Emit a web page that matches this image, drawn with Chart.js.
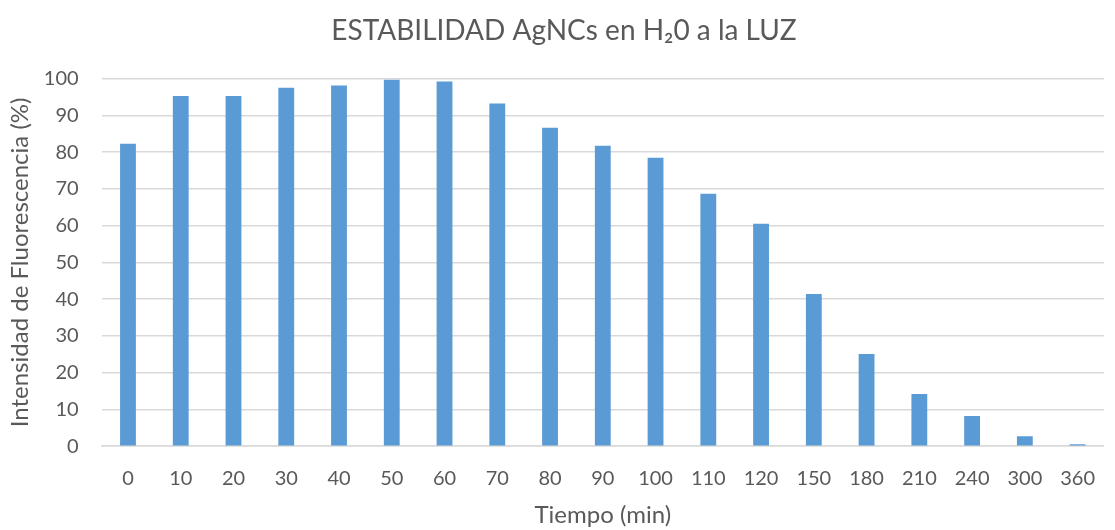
<!DOCTYPE html>
<html><head><meta charset="utf-8">
<script src="https://cdn.jsdelivr.net/npm/chart.js@4"></script>
<style>html,body{margin:0;padding:0;background:#fff}#wrap{width:1115px;height:530px}</style>
</head><body><div id="wrap"><canvas id="c" width="1115" height="530"></canvas></div>
<script>
const categories = ["0","10","20","30","40","50","60","70","80","90","100","110","120","150","180","210","240","300","360"];
const values = [82.3,95.3,95.3,97.5,98.1,99.7,99.2,93.2,86.6,81.7,78.5,68.7,60.5,41.4,25.1,14.2,8.2,2.7,0.5];
const yTicks = [0,10,20,30,40,50,60,70,80,90,100];
const titleText = "ESTABILIDAD AgNCs en H\u20820 a la LUZ";
const yTitle = "Intensidad de Fluorescencia (%)";
const xTitle = "Tiempo (min)";
const FONT = "Lato, 'Open Sans', sans-serif";
new Chart(document.getElementById('c'), {
  type: 'bar',
  data: { labels: categories, datasets: [{ data: values, backgroundColor: '#5b9bd5', barPercentage: 0.6, categoryPercentage: 0.5 }] },
  options: {
    responsive: false, animation: false,
    layout: { padding: { left: 6, right: -7, top: 14, bottom: 0 } },
    plugins: {
      legend: { display: false }, tooltip: { enabled: false },
      title: { display: true, text: titleText, color: '#595959', font: { family: FONT, size: 28, weight: 'normal' }, padding: { top: 0, bottom: 31 } }
    },
    scales: {
      x: {
        grid: { display: false, drawTicks: false },
        border: { color: '#d9d9d9', width: 1.5 },
        ticks: { color: '#595959', font: { family: FONT, size: 20 }, padding: 20 },
        title: { display: true, text: xTitle, color: '#595959', font: { family: FONT, size: 24 }, padding: { top: -9, bottom: 0 } }
      },
      y: {
        min: 0, max: 100,
        afterBuildTicks: (ax) => { ax.ticks = yTicks.map(v => ({ value: v })); },
        grid: { color: '#d9d9d9', lineWidth: 1.5, drawTicks: false },
        border: { display: false },
        ticks: { color: '#595959', font: { family: FONT, size: 20 }, padding: 23 },
        title: { display: true, text: yTitle, color: '#595959', font: { family: FONT, size: 24 }, padding: { top: 0, bottom: -14 } }
      }
    }
  }
});
</script></body></html>
